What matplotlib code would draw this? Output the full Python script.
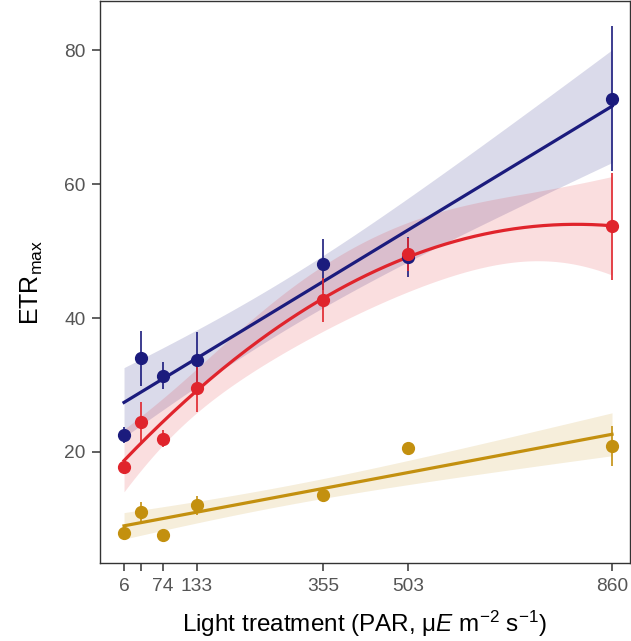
import numpy as np
import matplotlib.pyplot as plt

plt.rcParams['font.family'] = ['Liberation Sans', 'DejaVu Sans']
plt.rcParams['mathtext.fontset'] = 'custom'
plt.rcParams['mathtext.rm'] = 'Liberation Sans'
plt.rcParams['mathtext.it'] = 'Liberation Sans:italic'

# light levels (PAR)
par = np.array([6, 36, 74, 133, 355, 503, 860])
tick_labels = ['6', '', '74', '133', '355', '503', '860']

# ETRmax means and errors per group
blue_y = np.array([22.5, 34.0, 31.4, 33.7, 48.0, 49.1, 72.8])
blue_err = np.array([1.2, 4.1, 2.0, 4.2, 3.8, 3.0, 10.8])
red_y = np.array([17.7, 24.4, 22.0, 29.5, 42.7, 49.5, 53.7])
red_err = np.array([1.0, 3.0, 1.3, 3.6, 3.3, 2.5, 8.0])
gold_y = np.array([7.9, 11.0, 7.6, 12.0, 13.5, 20.6, 20.9])
gold_err = np.array([0.5, 1.5, 0.4, 1.4, 0.5, 0.8, 3.0])

c_blue = '#1b1b7d'
c_red = '#e0242c'
c_gold = '#c3900f'


def fit_band(x, y, deg, tval):
    # polynomial fit with a confidence band, like geom_smooth(method='lm')
    X = np.vander(x, deg + 1)
    coef = np.linalg.lstsq(X, y, rcond=None)[0]
    dof = len(x) - (deg + 1)
    s2 = np.sum((y - X @ coef) ** 2) / dof
    cov = s2 * np.linalg.inv(X.T @ X)
    xs = np.linspace(x.min(), x.max(), 200)
    Xs = np.vander(xs, deg + 1)
    ys = Xs @ coef
    se = np.sqrt(np.einsum('ij,jk,ik->i', Xs, cov, Xs))
    return xs, ys, ys - tval * se, ys + tval * se


fig = plt.figure(figsize=(6.31, 6.41), dpi=100)
ax = fig.add_axes([0.1585, 0.1217, 0.8395, 0.876])

groups = [(blue_y, blue_err, c_blue, 1, 2.6, 0.16),
          (red_y, red_err, c_red, 2, 3.6, 0.15),
          (gold_y, gold_err, c_gold, 1, 1.6, 0.15)]

fits = []
for y, err, col, deg, t, a in groups:
    xs, ys, lo, hi = fit_band(par, y, deg, t)
    fits.append((xs, ys))
    ax.fill_between(xs, lo, hi, color=col, alpha=a, lw=0, zorder=1)
for (y, err, col, deg, t, a), (xs, ys) in zip(groups, fits):
    ax.plot(xs, ys, color=col, lw=2.3, zorder=3)
    ax.errorbar(par, y, yerr=err, fmt='o', color=col, ms=8.5, elinewidth=1.2,
                capsize=0, zorder=4)

ax.set_xlim(-36, 891)
ax.set_ylim(3.4, 87.3)
ax.set_xticks(par)
ax.set_xticklabels(tick_labels)
ax.set_yticks([20, 40, 60, 80])
ax.tick_params(axis='both', labelsize=13.8, labelcolor='#555555', color='#444444',
               length=5.5, width=1.2, pad=5)
for sp in ax.spines.values():
    sp.set_color('#333333')
    sp.set_linewidth(1.0)

ax.set_xlabel('Light treatment (PAR, μ$\\mathit{E}$ m$^{-2}$ s$^{-1}$)', fontsize=17.5, labelpad=10)
ax.set_ylabel(r'ETR$_{\mathrm{max}}$', fontsize=18, labelpad=14)

fig.savefig('out.png', dpi=100)
